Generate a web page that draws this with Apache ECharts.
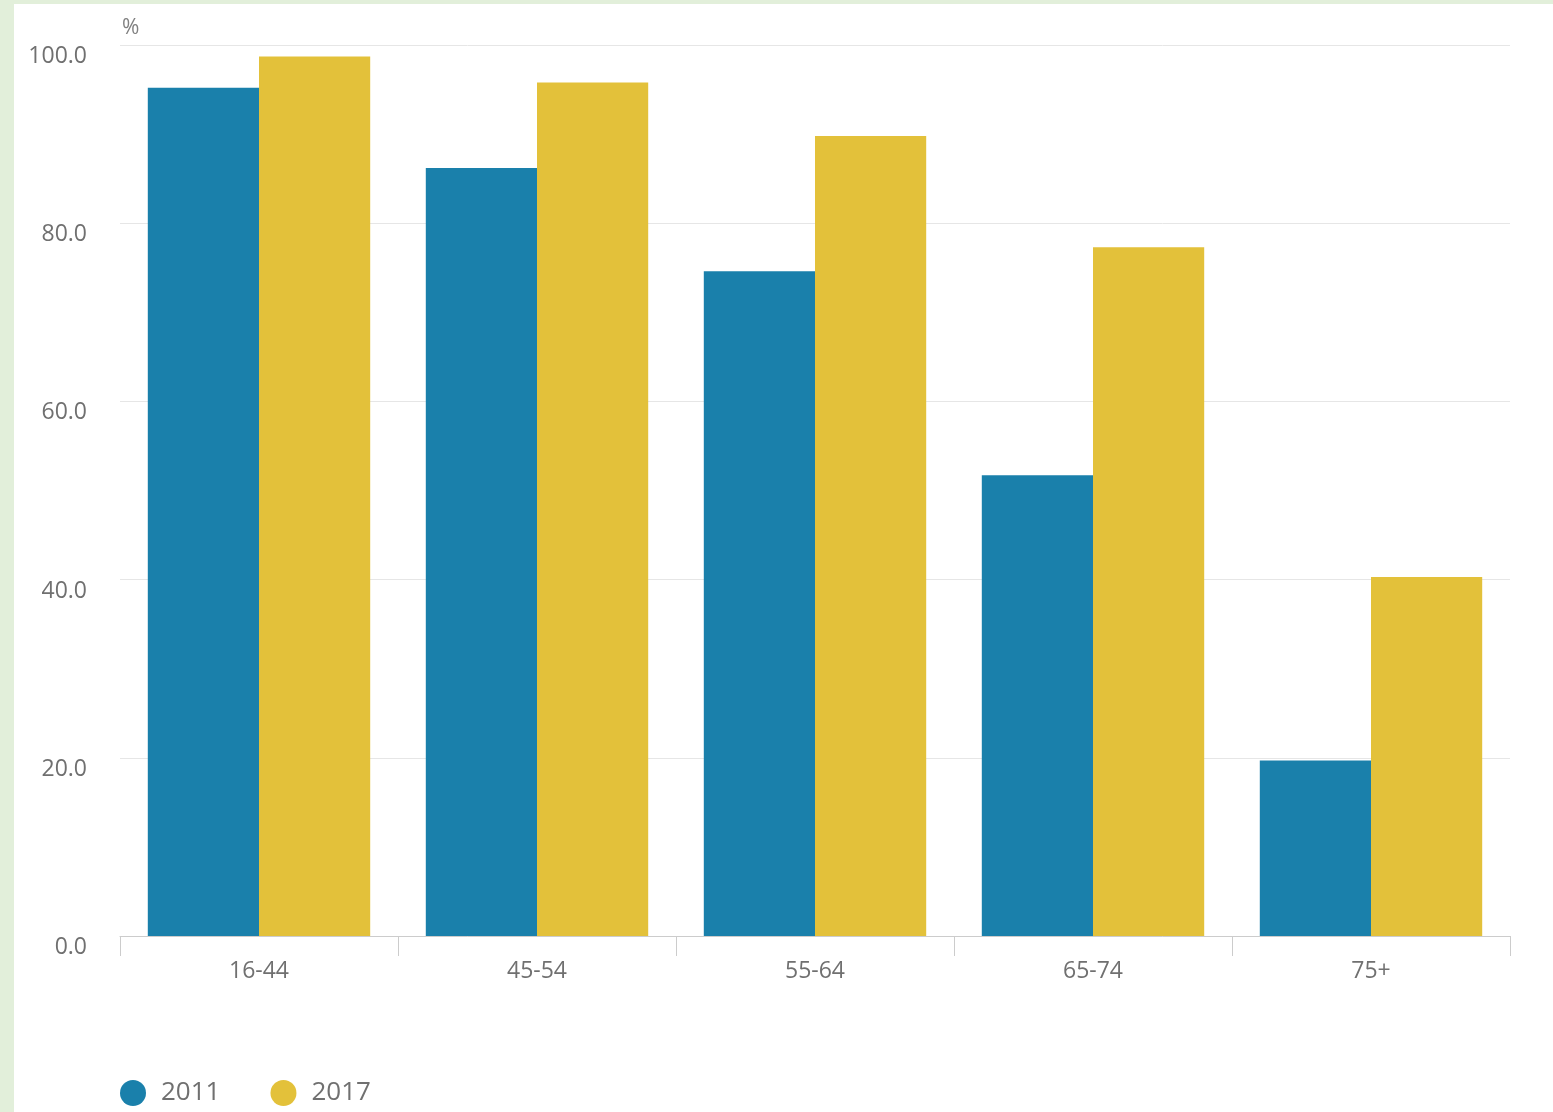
<!DOCTYPE html>
<html>
<head>
<meta charset="utf-8">
<script src="https://cdn.jsdelivr.net/npm/echarts@6/dist/echarts.min.js"></script>
<style>
html,body{margin:0;padding:0;background:#e2efda;}
#wrap{position:absolute;left:14px;top:4px;right:0;bottom:0;background:#fff;}
#chart{width:1539px;height:1108px;}
</style>
</head>
<body>
<div id="wrap"><div id="chart"></div></div>
<script>
const categories = ['16-44', '45-54', '55-64', '65-74', '75+'];
const values2011 = [95.2, 86.2, 74.6, 51.7, 19.7];
const values2017 = [98.7, 95.8, 89.8, 77.3, 40.3];
const seriesNames = ['2011', '2017'];

const chart = echarts.init(document.getElementById('chart'));
chart.setOption({
  animation: false,
  textStyle: { fontFamily: 'Open Sans' },
  color: ['#1a80ab', '#e3c13a'],
  grid: { left: 106, right: 43, top: 41, bottom: 176 },
  legend: {
    left: 101, top: 1071,
    icon: 'circle', itemWidth: 26, itemHeight: 26, itemGap: 50,
    textStyle: { fontSize: 26, color: '#707070', padding: [0, 0, 0, 10] },
    data: seriesNames
  },
  xAxis: {
    type: 'category',
    data: categories,
    axisLine: { lineStyle: { color: '#ccc' } },
    axisTick: { show: true, length: 20, lineStyle: { color: '#ccc' } },
    axisLabel: { color: '#707070', fontSize: 23, margin: 24 }
  },
  yAxis: {
    type: 'value', min: 0, max: 100, interval: 20,
    name: '%', nameLocation: 'end', nameGap: 6,
    nameTextStyle: { color: '#808080', fontSize: 21, align: 'left', padding: [0, 0, 0, 2] },
    axisLine: { show: false }, axisTick: { show: false },
    axisLabel: { color: '#707070', fontSize: 23, margin: 33, verticalAlign: 'top', formatter: v => v.toFixed(1) },
    splitLine: { lineStyle: { color: '#e6e6e6' } }
  },
  series: [
    { name: seriesNames[0], type: 'bar', data: values2011, barGap: '0%', barCategoryGap: '20%' },
    { name: seriesNames[1], type: 'bar', data: values2017, barGap: '0%', barCategoryGap: '20%' }
  ]
});
</script>
</body>
</html>
